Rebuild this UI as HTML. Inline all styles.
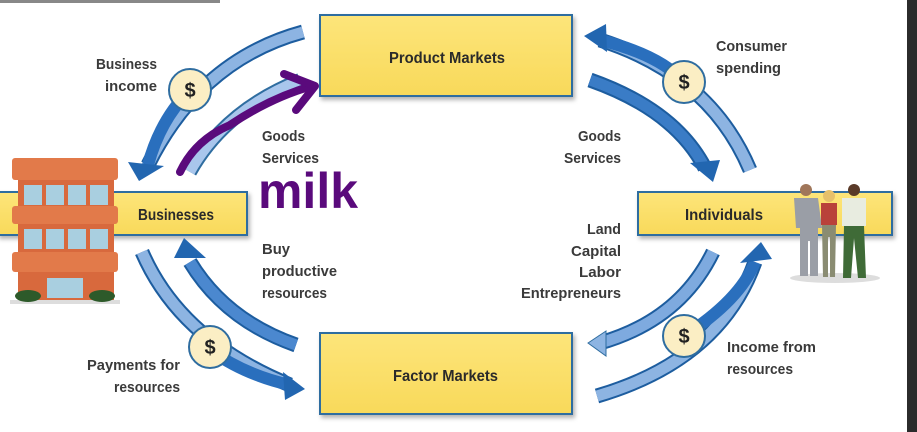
<!DOCTYPE html>
<html><head><meta charset="utf-8"><style>
html,body{margin:0;padding:0;background:#fff;}
svg{display:block}
text{font-family:"Liberation Sans",sans-serif;font-weight:bold;}
</style></head><body>
<svg width="917" height="432" viewBox="0 0 917 432" xmlns="http://www.w3.org/2000/svg">
<defs>
<linearGradient id="y" x1="0" y1="0" x2="0" y2="1"><stop offset="0" stop-color="#fde57a"/><stop offset="1" stop-color="#f8d95a"/></linearGradient>
<filter id="sh" x="-10%" y="-10%" width="130%" height="140%"><feDropShadow dx="2" dy="3" stdDeviation="2" flood-color="#000" flood-opacity="0.3"/></filter>
</defs>
<rect x="0" y="0" width="917" height="432" fill="#fff"/>
<rect x="0" y="0" width="220" height="3" fill="#888"/>
<rect x="907" y="0" width="10" height="432" fill="#2b2b2b"/>

<rect x="320" y="15" width="252" height="81" fill="url(#y)" stroke="#2f6da0" stroke-width="2" filter="url(#sh)"/>
<rect x="320" y="333" width="252" height="81" fill="url(#y)" stroke="#2f6da0" stroke-width="2" filter="url(#sh)"/>
<rect x="-2" y="192" width="249" height="43" fill="url(#y)" stroke="#2f6da0" stroke-width="2" filter="url(#sh)"/>
<rect x="638" y="192" width="254" height="43" fill="url(#y)" stroke="#2f6da0" stroke-width="2" filter="url(#sh)"/>

<g font-size="16" fill="#2a2a2a">
<text x="389" y="63" textLength="116" lengthAdjust="spacingAndGlyphs">Product Markets</text>
<text x="393" y="381" textLength="105" lengthAdjust="spacingAndGlyphs">Factor Markets</text>
<text x="138" y="220" textLength="76" lengthAdjust="spacingAndGlyphs">Businesses</text>
<text x="685" y="220" textLength="78" lengthAdjust="spacingAndGlyphs">Individuals</text>
</g>

<g fill="none" stroke-linecap="butt">
<path d="M303,32 Q200,60 148,165" stroke="#1d5d9f" stroke-width="15"/>
<path d="M303,32 Q200,60 148,165" stroke="#8db4e2" stroke-width="11"/>
<path d="M190,90 Q160,120 148,165" stroke="#2a6fbd" stroke-width="12"/>
<path d="M190,172 Q225,110 300,80" stroke="#2f6da0" stroke-width="14"/>
<path d="M190,172 Q225,110 300,80" stroke="#a9c6ec" stroke-width="10"/>
<path d="M142,252 Q180,340 290,385" stroke="#1d5d9f" stroke-width="15"/>
<path d="M142,252 Q180,340 290,385" stroke="#8db4e2" stroke-width="11"/>
<path d="M210,350 Q245,375 290,385" stroke="#2a6fbd" stroke-width="12"/>
<path d="M296,345 Q225,320 190,262" stroke="#1d5d9f" stroke-width="15"/>
<path d="M296,345 Q225,320 190,262" stroke="#4b88cf" stroke-width="11"/>
<path d="M600,40 Q710,75 750,170" stroke="#1d5d9f" stroke-width="15"/>
<path d="M600,40 Q710,75 750,170" stroke="#8db4e2" stroke-width="11"/>
<path d="M600,40 Q660,55 684,82" stroke="#2a6fbd" stroke-width="12"/>
<path d="M590,80 Q675,110 705,168" stroke="#1d5d9f" stroke-width="15"/>
<path d="M590,80 Q675,110 705,168" stroke="#3a7cc6" stroke-width="11"/>
<path d="M713,252 Q680,320 600,343" stroke="#1d5d9f" stroke-width="15"/>
<path d="M713,252 Q680,320 600,343" stroke="#7eaadf" stroke-width="11"/>
<path d="M597,396 Q720,360 755,262" stroke="#1d5d9f" stroke-width="15"/>
<path d="M597,396 Q720,360 755,262" stroke="#8db4e2" stroke-width="11"/>
<path d="M684,336 Q740,300 755,262" stroke="#2a6fbd" stroke-width="12"/>
</g>
<g fill="#2266b0">
<polygon points="128,162 164,166 139,181"/>
<polygon points="174,258 206,258 184,238"/>
<polygon points="283,372 305,389 285,400"/>
<polygon points="584,36 606,24 607,52"/>
<polygon points="690,163 720,160 713,182"/>
<polygon points="740,263 772,259 761,242"/>
</g>
<polygon points="588,343 606,331 606,356" fill="#8db4e2" stroke="#2f6da0"/>

<g stroke="#2f6da0" stroke-width="2" fill="#fbeec4">
<circle cx="190" cy="90" r="21"/>
<circle cx="210" cy="347" r="21"/>
<circle cx="684" cy="82" r="21"/>
<circle cx="684" cy="336" r="21"/>
</g>
<g font-size="20" fill="#222" text-anchor="middle">
<text x="190" y="97">$</text><text x="210" y="354">$</text>
<text x="684" y="89">$</text><text x="684" y="343">$</text>
</g>

<g font-size="15" fill="#3a3a3a">
<text x="157" y="69" text-anchor="end" textLength="61" lengthAdjust="spacingAndGlyphs">Business</text>
<text x="157" y="91" text-anchor="end" textLength="52" lengthAdjust="spacingAndGlyphs">income</text>
<text x="262" y="141" textLength="43" lengthAdjust="spacingAndGlyphs">Goods</text><text x="262" y="163" textLength="57" lengthAdjust="spacingAndGlyphs">Services</text>
<text x="262" y="254" textLength="28" lengthAdjust="spacingAndGlyphs">Buy</text><text x="262" y="276" textLength="75" lengthAdjust="spacingAndGlyphs">productive</text><text x="262" y="298" textLength="65" lengthAdjust="spacingAndGlyphs">resources</text>
<text x="180" y="370" text-anchor="end" textLength="93" lengthAdjust="spacingAndGlyphs">Payments for</text>
<text x="180" y="392" text-anchor="end" textLength="66" lengthAdjust="spacingAndGlyphs">resources</text>
<text x="716" y="51" textLength="71" lengthAdjust="spacingAndGlyphs">Consumer</text><text x="716" y="73" textLength="65" lengthAdjust="spacingAndGlyphs">spending</text>
<text x="621" y="141" text-anchor="end" textLength="43" lengthAdjust="spacingAndGlyphs">Goods</text><text x="621" y="163" text-anchor="end" textLength="57" lengthAdjust="spacingAndGlyphs">Services</text>
<text x="621" y="234" text-anchor="end" textLength="34" lengthAdjust="spacingAndGlyphs">Land</text><text x="621" y="256" text-anchor="end" textLength="50" lengthAdjust="spacingAndGlyphs">Capital</text>
<text x="621" y="277" text-anchor="end" textLength="42" lengthAdjust="spacingAndGlyphs">Labor</text><text x="621" y="298" text-anchor="end" textLength="100" lengthAdjust="spacingAndGlyphs">Entrepreneurs</text>
<text x="727" y="352" textLength="89" lengthAdjust="spacingAndGlyphs">Income from</text><text x="727" y="374" textLength="66" lengthAdjust="spacingAndGlyphs">resources</text>
</g>

<g>
<rect x="10" y="300" width="110" height="4" fill="#ddd"/>
<rect x="18" y="165" width="96" height="135" fill="#d8693d"/>
<rect x="12" y="158" width="106" height="22" rx="3" fill="#e27a4a"/>
<rect x="12" y="206" width="106" height="18" rx="3" fill="#e27a4a"/>
<rect x="12" y="252" width="106" height="20" rx="3" fill="#e27a4a"/>
<g fill="#a9cfe0">
<rect x="24" y="185" width="18" height="20"/><rect x="46" y="185" width="18" height="20"/><rect x="68" y="185" width="18" height="20"/><rect x="90" y="185" width="18" height="20"/>
<rect x="24" y="229" width="18" height="20"/><rect x="46" y="229" width="18" height="20"/><rect x="68" y="229" width="18" height="20"/><rect x="90" y="229" width="18" height="20"/>
<rect x="47" y="278" width="36" height="20"/>
</g>
<ellipse cx="28" cy="296" rx="13" ry="6" fill="#2d5a2a"/>
<ellipse cx="102" cy="296" rx="13" ry="6" fill="#2d5a2a"/>
</g>

<g>
<ellipse cx="835" cy="278" rx="45" ry="5" fill="#ddd"/>
<circle cx="806" cy="190" r="6" fill="#a0765a"/>
<path d="M794,198 h24 l4,30 h-4 v48 h-8 v-35 h-2 v35 h-8 v-48 h-4z" fill="#9a9ea6"/>
<circle cx="829" cy="196" r="6" fill="#e6c06a"/>
<rect x="821" y="203" width="16" height="22" fill="#b9423a"/>
<path d="M822,225 h14 l-1,52 h-5 v-40 h-2 v40 h-5z" fill="#8a8c72"/>
<circle cx="854" cy="190" r="6" fill="#5a3a28"/>
<rect x="842" y="198" width="24" height="28" fill="#e8ece0"/>
<path d="M844,226 h20 l2,52 h-8 l-4,-40 l-3,40 h-8z" fill="#3f6b37"/>
</g>

<g fill="none" stroke="#5a0a7c" stroke-width="8" stroke-linecap="round" stroke-linejoin="round">
<path d="M180,172 Q195,140 230,125 Q270,98 312,86"/>
<path d="M284,74 L315,86 L296,110"/>
</g>
<text x="258" y="208" font-family="'Liberation Sans',sans-serif" font-weight="normal" font-size="50" fill="#5a0a7c" textLength="100" lengthAdjust="spacingAndGlyphs">milk</text>
</svg>
</body></html>
